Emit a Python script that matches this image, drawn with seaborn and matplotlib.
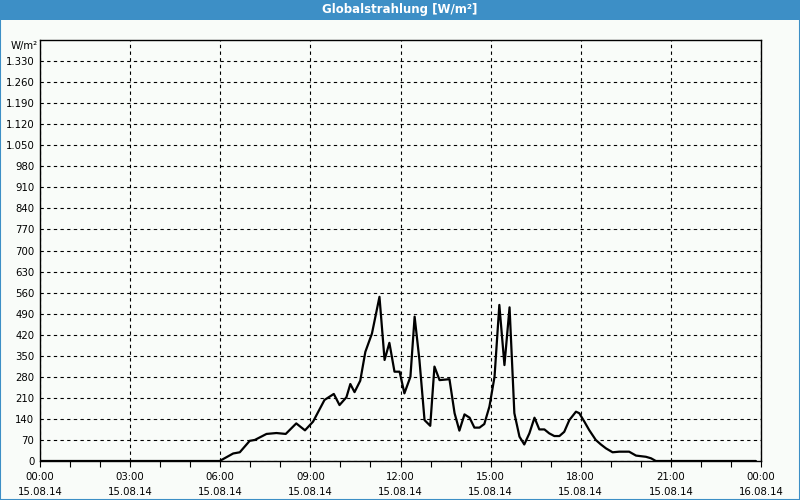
import numpy as np
import pandas as pd
import matplotlib
matplotlib.use("Agg")
import matplotlib.pyplot as plt
from matplotlib.patches import Rectangle
from matplotlib.ticker import FuncFormatter, MultipleLocator
import seaborn as sns

# decimal hours of 15.08.14
hours = [0.0, 5.98, 6.43, 6.65, 6.98, 7.15, 7.54, 7.87, 8.18, 8.53, 8.82, 9.09, 9.47,
         9.78, 9.97, 10.2, 10.33, 10.47, 10.66, 10.83, 11.05, 11.3, 11.47, 11.63, 11.8,
         11.97, 12.13, 12.33, 12.47, 12.63, 12.8, 12.99, 13.13, 13.3, 13.63, 13.8, 13.96,
         14.13, 14.3, 14.46, 14.63, 14.79, 14.96, 15.13, 15.29, 15.46, 15.63, 15.79,
         15.96, 16.12, 16.29, 16.46, 16.62, 16.79, 16.95, 17.12, 17.29, 17.45, 17.62,
         17.84, 17.95, 18.12, 18.28, 18.5, 18.67, 18.84, 19.06, 19.28, 19.61, 19.84,
         20.17, 20.34, 20.5, 23.83]
radiation = [0, 0, 25, 29, 67, 70, 90, 93, 90, 125, 102, 131, 203,
             223, 186, 212, 256, 229, 267, 363, 424, 546, 336, 393, 297,
             297, 225, 280, 480, 336, 136, 117, 314, 269, 272, 159, 101,
             155, 144, 111, 111, 123, 181, 280, 519, 319, 511, 159,
             81, 55, 92, 144, 105, 105, 92, 83, 83, 97, 136,
             164, 159, 131, 103, 70, 55, 42, 29, 31, 31, 18,
             14, 9, 0, 0]
x_labels = ["00:00\n15.08.14", "03:00\n15.08.14", "06:00\n15.08.14", "09:00\n15.08.14",
            "12:00\n15.08.14", "15:00\n15.08.14", "18:00\n15.08.14", "21:00\n15.08.14",
            "00:00\n16.08.14"]
title = "Globalstrahlung [W/m²]"
unit = "W/m²"

df = pd.DataFrame({"h": hours, "v": radiation})

sns.set_theme(style="white")
plt.rcParams["font.family"] = ["DejaVu Sans"]

bg = "#F9FCF9"
blue = "#3D8FC6"
fig = plt.figure(figsize=(8, 5), dpi=100, facecolor=bg)
ax = fig.add_axes([40/800, 39/500, 721/800, 421/500])
ax.set_facecolor(bg)

sns.lineplot(data=df, x="h", y="v", ax=ax, color="black", linewidth=1.6)

ax.set_xlim(0, 24)
ax.set_ylim(0, 1400)
ax.set_xticks(np.arange(0, 25, 3))
ax.set_xticklabels(x_labels, fontsize=7.3, linespacing=1.55)
ax.xaxis.set_minor_locator(MultipleLocator(1))
ax.set_yticks(np.arange(0, 1331, 70))
ax.yaxis.set_major_formatter(FuncFormatter(lambda v, p: f"{int(v):,}".replace(",", ".")))
ax.tick_params(axis="y", labelsize=7.3, length=0, pad=4, colors="black")
ax.tick_params(axis="x", which="major", length=4, width=0.8, pad=4, colors="black", direction="out", bottom=True)
ax.tick_params(axis="x", which="minor", length=4, width=0.8, direction="out", bottom=True, colors="black")
ax.set_xlabel("")
ax.set_ylabel("")
ax.grid(True, which="major", color="black", linestyle=(0, (3, 3)), linewidth=0.8)
for s in ax.spines.values():
    s.set_visible(True)
    s.set_color("black")
    s.set_linewidth(1.0)

fig.text(38/800, 1 - 46/500, unit, fontsize=7.3, ha="right", va="center", color="black")

# title bar and border
fig.patches.append(Rectangle((0, 480/500), 1, 20/500, transform=fig.transFigure,
                             facecolor=blue, edgecolor="none", zorder=0))
fig.patches.append(Rectangle((0.0006, 0.001), 0.9988, 0.998, transform=fig.transFigure,
                             facecolor="none", edgecolor=blue, linewidth=1.5, zorder=5))
fig.text(0.5, 1 - 10/500, title, fontsize=8.5, fontweight="bold", color="white",
         ha="center", va="center")

fig.savefig("out.png", dpi=100, facecolor=bg)
